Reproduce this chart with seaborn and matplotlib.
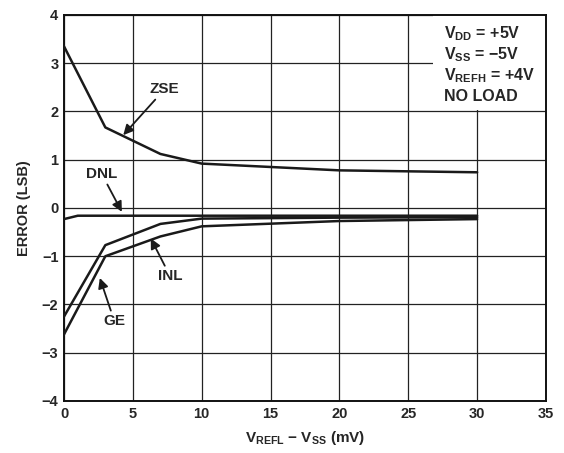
import numpy as np
import pandas as pd
import matplotlib.pyplot as plt
import seaborn as sns

# values
zse_x = [0, 3, 7, 10, 20, 30]
zse_y = [3.35, 1.67, 1.12, 0.92, 0.78, 0.74]
dnl_x = [0, 1, 30]
dnl_y = [-0.23, -0.16, -0.16]
inl_x = [0, 3, 7, 10, 20, 30]
inl_y = [-2.25, -0.77, -0.33, -0.22, -0.20, -0.19]
ge_x = [0, 3, 7, 10, 20, 30]
ge_y = [-2.62, -1.0, -0.59, -0.38, -0.27, -0.23]

x_ticks = [0, 5, 10, 15, 20, 25, 30, 35]
y_ticks = [-4, -3, -2, -1, 0, 1, 2, 3, 4]

sns.set_style("white")
plt.rcParams['font.family'] = ['Liberation Sans', 'DejaVu Sans']
plt.rcParams['font.weight'] = 'bold'
plt.rcParams['mathtext.fontset'] = 'custom'
plt.rcParams['mathtext.rm'] = 'Liberation Sans:bold'
plt.rcParams['mathtext.bf'] = 'Liberation Sans:bold'
plt.rcParams['mathtext.default'] = 'bf'

MINUS = '\u2212'

curves = pd.concat([
    pd.DataFrame({'x': zse_x, 'y': zse_y, 'curve': 'ZSE'}),
    pd.DataFrame({'x': dnl_x, 'y': dnl_y, 'curve': 'DNL'}),
    pd.DataFrame({'x': inl_x, 'y': inl_y, 'curve': 'INL'}),
    pd.DataFrame({'x': ge_x, 'y': ge_y, 'curve': 'GE'}),
])

fig = plt.figure(figsize=(5.64, 4.53), dpi=100)
ax = fig.add_axes([0.1135, 0.1148, 0.8546, 0.8521])

ax.set_xlim(0, 35)
ax.set_ylim(-4, 4)
ax.set_xticks(x_ticks)
ax.set_yticks(y_ticks)
ax.set_xticklabels([str(t) for t in x_ticks], fontsize=10.5, fontweight='bold')
ax.set_yticklabels([str(t).replace('-', MINUS) for t in y_ticks], fontsize=10.5, fontweight='bold')
ax.tick_params(length=0, pad=4)
ax.grid(True, color='#222222', linewidth=0.9)
ax.set_axisbelow(True)
for s in ax.spines.values():
    s.set_linewidth(1.4)
    s.set_color('#111111')

# white box behind the conditions text
ax.add_patch(plt.Rectangle((26.8, 2.03), 8.2, 1.97, facecolor='white',
                           edgecolor='none', zorder=1.5))

sns.lineplot(data=curves, x='x', y='y', units='curve', estimator=None,
             color='#1a1a1a', linewidth=1.8, sort=False, ax=ax, zorder=3)

arrow = dict(arrowstyle='-|>', color='#1a1a1a', lw=1.3, mutation_scale=15,
             shrinkA=0, shrinkB=0)
lab = dict(ha='center', va='center', fontsize=11, fontweight='bold')
ax.annotate('ZSE', xy=(4.3, 1.51), xytext=(7.3, 2.46), arrowprops=arrow, **lab)
ax.annotate('DNL', xy=(4.2, -0.08), xytext=(2.75, 0.70), arrowprops=arrow, **lab)
ax.annotate('INL', xy=(6.3, -0.63), xytext=(7.7, -1.41), arrowprops=arrow, **lab)
ax.annotate('GE', xy=(2.6, -1.45), xytext=(3.65, -2.34), arrowprops=arrow, **lab)

cond = [r'$V_{DD}$ = +5V', r'$V_{SS}$ = ' + MINUS + '5V', r'$V_{REFH}$ = +4V', 'NO LOAD']
cond_y = [3.62, 3.18, 2.74, 2.32]
for txt, yy in zip(cond, cond_y):
    ax.text(27.6, yy, txt, fontsize=11.5, fontweight='bold', va='center',
            ha='left', zorder=4)

ax.set_xlabel(r'$V_{REFL}$ ' + MINUS + r' $V_{SS}$ (mV)',
              fontsize=11, fontweight='bold', labelpad=6)
ax.set_ylabel('ERROR (LSB)', fontsize=10.5, fontweight='bold', labelpad=8)

fig.savefig('out.png', dpi=100)
